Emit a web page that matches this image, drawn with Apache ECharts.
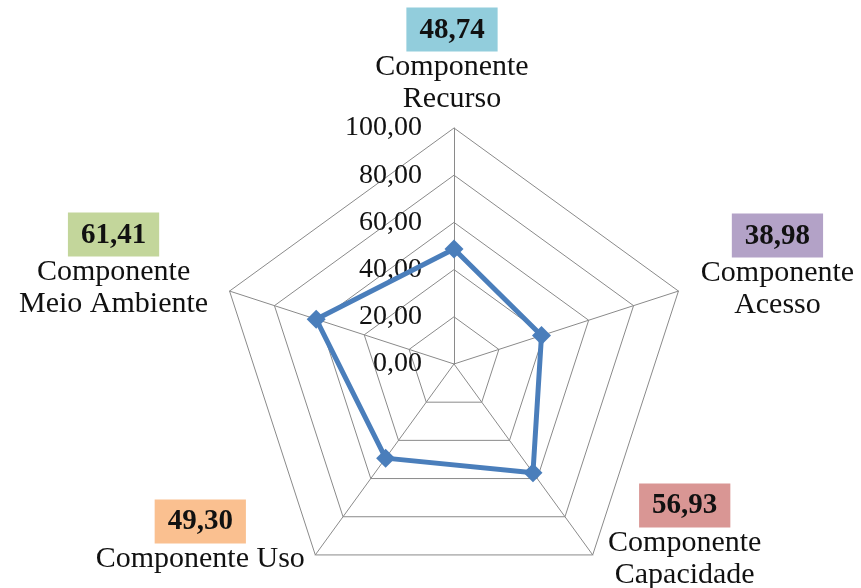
<!DOCTYPE html>
<html>
<head>
<meta charset="utf-8">
<script src="https://cdn.jsdelivr.net/npm/echarts@6/dist/echarts.min.js"></script>
<style>
  html, body { margin: 0; padding: 0; background: #fff; }
  #chart { width: 861px; height: 588px; }
</style>
</head>
<body>
<div id="chart"></div>
<script>
// indicators in counter-clockwise order starting from the top
const componentes = ['Componente\nRecurso', 'Componente\nMeio Ambiente', 'Componente Uso', 'Componente\nCapacidade', 'Componente\nAcesso']
const valores = [48.74, 61.41, 49.30, 56.93, 38.98]
const maxValor = 100

const boxColors = ['#92cddc', '#c3d69b', '#fac090', '#d99694', '#b3a2c7']
// padding used to nudge each name block away from its vertex
const namePads = [
  [0, 4, 122, 0],
  [0, 232, 44, 0],
  [0, 230, 30, 0],
  [0, 0, 30, 184],
  [0, 0, 42, 198]
]

const fmt = v => v.toFixed(2).replace('.', ',')
const serif = '"Liberation Serif", "Times New Roman", serif'

const chart = echarts.init(document.getElementById('chart'))

const rich = {
  n: { fontFamily: serif, fontSize: 30, lineHeight: 32, color: '#111' },
  s: { fontSize: 1, lineHeight: 5 }
}
boxColors.forEach((c, i) => {
  rich['v' + i] = {
    fontFamily: serif, fontSize: 29, fontWeight: 'bold', color: '#111',
    backgroundColor: c, padding: [8, 13, 7, 13], lineHeight: 33
  }
})

chart.setOption({
  animation: false,
  radar: {
    center: [454, 364],
    radius: 236,
    startAngle: 90,
    splitNumber: 5,
    shape: 'polygon',
    axisName: {
      show: true,
      align: 'center',
      verticalAlign: 'middle',
      formatter: function(name) {
        const i = componentes.indexOf(name)
        const lines = name.split('\n').map(l => '{n|' + l + '}').join('\n')
        return '{v' + i + '|' + fmt(valores[i]) + '}\n{s| }\n' + lines
      },
      rich: rich
    },
    splitLine: { lineStyle: { color: '#8a8a8a', width: 1 } },
    splitArea: { show: false },
    axisLine: { lineStyle: { color: '#8a8a8a', width: 1 } },
    axisTick: { show: false },
    axisLabel: { show: false },
    indicator: componentes.map((name, i) => {
      const ind = {
        name: name,
        max: maxValor,
        min: 0,
        nameGap: 0,
        nameTextStyle: { padding: namePads[i] }
      }
      if (i === 0) {
        ind.axisLabel = {
          show: true,
          fontFamily: serif,
          fontSize: 28,
          color: '#111',
          margin: 32,
          formatter: v => fmt(v)
        }
      }
      return ind
    })
  },
  series: [{
    type: 'radar',
    symbol: 'diamond',
    symbolSize: 19,
    lineStyle: { color: '#4a7ebb', width: 5 },
    itemStyle: { color: '#4a7ebb' },
    data: [{ value: valores, name: 'Componentes' }]
  }]
})
</script>
</body>
</html>
